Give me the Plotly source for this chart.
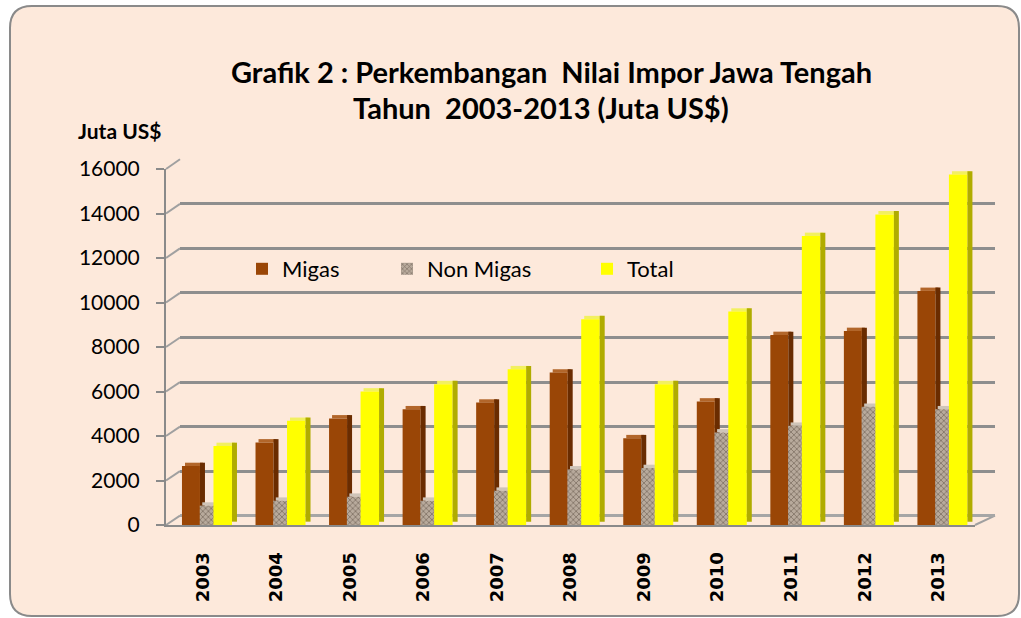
import plotly.graph_objects as go

# ---------------- data ----------------
years = ["2003", "2004", "2005", "2006", "2007", "2008", "2009", "2010", "2011", "2012", "2013"]
migas = [2650, 3710, 4790, 5200, 5500, 6850, 3900, 5550, 8540, 8720, 10520]
non_migas = [870, 1090, 1270, 1090, 1540, 2500, 2560, 4160, 4460, 5310, 5200]
total = [3550, 4680, 6000, 6330, 7000, 9250, 6330, 9590, 12990, 13960, 15750]
y_ticks = [0, 2000, 4000, 6000, 8000, 10000, 12000, 14000, 16000]

W, H = 1021, 618


def px(x):
    return x / W


def py(y):
    return 1 - y / H


# geometry (pixels)
FX0, FX1 = 166, 975          # front (floor) x extent
BX0, BX1 = 180, 995          # back wall x extent
FY0, FY1 = 525, 169          # front axis: 0 and 16000
BY0, BY1 = 515.7, 159.3      # back wall: 0 and 16000
YMAX = 16000

unit = (FX1 - FX0) / len(years)
rise = 150  # small lift for the pseudo-3D side / top faces (data units)

BROWN, BROWN_SIDE, BROWN_TOP = "#9A4606", "#6A2C00", "#B2662A"
YEL, YEL_SIDE, YEL_TOP = "#FFFF00", "#B0AC00", "#F2F060"
NM_BG, NM_FG = "#B8AA9C", "#7E6F63"

fig = go.Figure()

# dummy trace to create the back-wall subplot (gridlines)
fig.add_trace(go.Scatter(x=[None], y=[None], xaxis="x", yaxis="y",
                         showlegend=False, hoverinfo="skip"))


def face(vals, off_px, w_px, color, base=None, name=None, legend=None, show=False, pattern=None):
    kw = dict(x=years, y=vals, offset=off_px / unit, width=w_px / unit,
              xaxis="x2", yaxis="y2", marker=dict(color=color, line=dict(width=0)),
              showlegend=show, name=name if name else "", hoverinfo="skip")
    if base is not None:
        kw["base"] = base
    if legend:
        kw["legend"] = legend
    if pattern:
        kw["marker"]["pattern"] = pattern
    fig.add_trace(go.Bar(**kw))


# Migas
face([rise] * len(years), -17.8, 18, BROWN_TOP, base=migas)
face(migas, -20.8, 18, BROWN, name="Migas", legend="legend", show=True)
face(migas, -2.8, 5, BROWN_SIDE, base=[rise] * len(years))
# Non Migas (set back, between Migas and Total)
face([rise] * len(years), -0.5, 15, "#CFC4B8", base=non_migas)
face(non_migas, -3.0, 15.5, NM_BG, name="Non Migas", legend="legend2", show=True,
     pattern=dict(shape="x", fgcolor=NM_FG, bgcolor=NM_BG, size=4, solidity=0.35))
# Total
face([rise] * len(years), 13.7, 18.5, YEL_TOP, base=total)
face(total, 10.7, 18.5, YEL, name="Total", legend="legend3", show=True)
face(total, 29.2, 5, YEL_SIDE, base=[rise] * len(years))

shapes = []
# rounded outer frame
r = 22
x0, y0, x1, y1 = 10, 6, 1019, 616
path = (f"M {px(x0 + r)},{py(y0)} L {px(x1 - r)},{py(y0)} "
        f"Q {px(x1)},{py(y0)} {px(x1)},{py(y0 + r)} L {px(x1)},{py(y1 - r)} "
        f"Q {px(x1)},{py(y1)} {px(x1 - r)},{py(y1)} L {px(x0 + r)},{py(y1)} "
        f"Q {px(x0)},{py(y1)} {px(x0)},{py(y1 - r)} L {px(x0)},{py(y0 + r)} "
        f"Q {px(x0)},{py(y0)} {px(x0 + r)},{py(y0)} Z")
shapes.append(dict(type="path", path=path, xref="paper", yref="paper", layer="below",
                   fillcolor="#FDE9DB", line=dict(color="#8A8A8A", width=2)))
# left wall diagonals
for v in y_ticks:
    fy = FY0 + (FY1 - FY0) * v / YMAX
    by = BY0 + (BY1 - BY0) * v / YMAX
    shapes.append(dict(type="line", xref="paper", yref="paper", layer="below",
                       x0=px(FX0), y0=py(fy), x1=px(BX0), y1=py(by),
                       line=dict(color="#A0A0A0", width=2)))
# floor right diagonal
shapes.append(dict(type="line", xref="paper", yref="paper", layer="below",
                   x0=px(FX1), y0=py(FY0), x1=px(BX1), y1=py(BY0),
                   line=dict(color="#A0A0A0", width=2)))

fig.update_layout(
    template="none",
    width=W, height=H,
    margin=dict(l=0, r=0, t=0, b=0, autoexpand=False),
    paper_bgcolor="white", plot_bgcolor="rgba(0,0,0,0)",
    barmode="overlay",
    shapes=shapes,
    font=dict(family="Lato, sans-serif", color="black"),
    xaxis=dict(domain=[px(BX0), px(BX1)], range=[0, 1], showgrid=False, zeroline=False,
               showticklabels=False, showline=False, anchor="y", fixedrange=True,
               automargin=False),
    yaxis=dict(domain=[py(BY0), py(BY1)], range=[0, YMAX], dtick=2000, showgrid=True,
               gridcolor="#8E8E8E", gridwidth=2.5, zeroline=True, zerolinecolor="#A6A6A6",
               zerolinewidth=2.5, showticklabels=False, anchor="x", fixedrange=True,
               automargin=False),
    xaxis2=dict(domain=[px(FX0), px(FX1)], anchor="y2", type="category",
                range=[-0.5, len(years) - 0.5], showgrid=False, zeroline=False,
                showline=True, linecolor="#8A8A8A", linewidth=2, automargin=False,
                ticks="", tickangle=-90, ticklabelstandoff=18, fixedrange=True,
                tickfont=dict(family="DejaVu Sans", size=18, color="black", weight="bold")),
    yaxis2=dict(domain=[py(FY0), py(FY1)], anchor="x2", range=[0, YMAX],
                tickvals=y_ticks, tickformat="d", showgrid=False, zeroline=False,
                showline=True, linecolor="#8A8A8A", linewidth=2, automargin=False,
                ticks="outside", ticklen=8, tickcolor="#8A8A8A", tickwidth=2,
                ticklabelstandoff=12, fixedrange=True,
                tickfont=dict(family="Lato, sans-serif", size=21, color="black")),
    legend=dict(x=px(242), y=py(269), yanchor="middle", xanchor="left",
                bgcolor="rgba(0,0,0,0)", font=dict(size=22, family="Lato, sans-serif")),
    legend2=dict(x=px(387), y=py(269), yanchor="middle", xanchor="left",
                 bgcolor="rgba(0,0,0,0)", font=dict(size=22, family="Lato, sans-serif")),
    legend3=dict(x=px(587), y=py(269), yanchor="middle", xanchor="left",
                 bgcolor="rgba(0,0,0,0)", font=dict(size=22, family="Lato, sans-serif")),
    annotations=[
        dict(text="<b>Grafik 2 : Perkembangan  Nilai Impor Jawa Tengah</b>", x=px(551), y=py(72),
             xref="paper", yref="paper", showarrow=False, xanchor="center", yanchor="middle",
             font=dict(size=29, family="Lato, sans-serif")),
        dict(text="<b>Tahun  2003-2013 (Juta US$)</b>", x=px(541), y=py(107),
             xref="paper", yref="paper", showarrow=False, xanchor="center", yanchor="middle",
             font=dict(size=29, family="Lato, sans-serif")),
        dict(text="<b>Juta US$</b>", x=px(76), y=py(130), xref="paper", yref="paper",
             showarrow=False, xanchor="left", yanchor="middle",
             font=dict(size=21, family="Lato, sans-serif")),
    ],
)

fig.write_html(
    "out.html",
    config={"displayModeBar": False},
    post_script="document.body.style.margin='0';document.body.style.overflow='hidden';",
)
